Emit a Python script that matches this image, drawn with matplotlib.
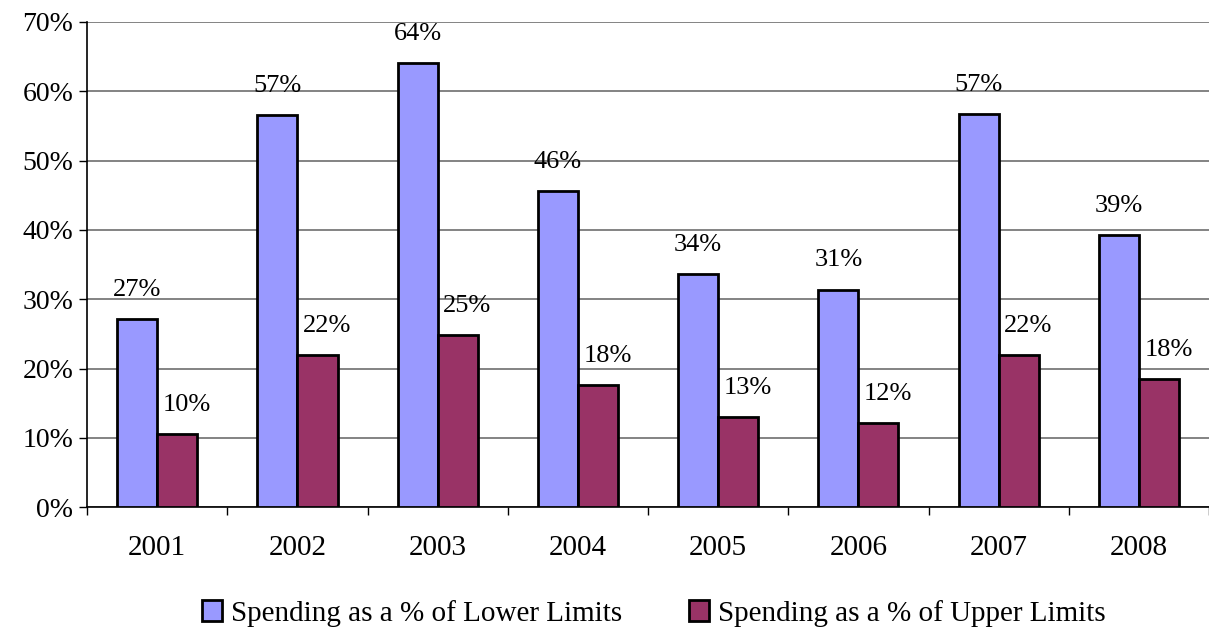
import matplotlib.pyplot as plt
import numpy as np

years = ['2001', '2002', '2003', '2004', '2005', '2006', '2007', '2008']
lower_pct = [27.2, 56.6, 64.1, 45.6, 33.7, 31.4, 56.7, 39.2]
upper_pct = [10.5, 21.9, 24.8, 17.6, 13.0, 12.1, 21.9, 18.5]
lower_labels = ['27%', '57%', '64%', '46%', '34%', '31%', '57%', '39%']
upper_labels = ['10%', '22%', '25%', '18%', '13%', '12%', '22%', '18%']

plt.rcParams['font.family'] = ['Liberation Serif', 'DejaVu Serif']

fig = plt.figure(figsize=(12.09, 6.27), dpi=100)
ax = fig.add_axes([0.072, 0.191, 0.928, 0.774])

x = np.arange(len(years))
w = 0.286
b1 = ax.bar(x - w / 2, lower_pct, w, color='#9999FF', edgecolor='black', linewidth=2,
            label='Spending as a % of Lower Limits', zorder=3)
b2 = ax.bar(x + w / 2, upper_pct, w, color='#993366', edgecolor='black', linewidth=2,
            label='Spending as a % of Upper Limits', zorder=3)

# value labels above bars
for xi, v, t in zip(x, lower_pct, lower_labels):
    ax.annotate(t, (xi - w / 2, v), xytext=(0, 13), textcoords='offset points',
                ha='center', va='bottom', fontsize=19)
for xi, v, t in zip(x, upper_pct, upper_labels):
    ax.annotate(t, (xi + w / 2, v), xytext=(7, 13), textcoords='offset points',
                ha='center', va='bottom', fontsize=19)

ax.set_xlim(-0.5, 7.5)
ax.set_ylim(0, 70)
ax.set_yticks(range(0, 71, 10))
ax.set_yticklabels([f'{v}%' for v in range(0, 71, 10)], fontsize=20)
ax.yaxis.grid(True, color='#6e6e6e', linewidth=1.2, zorder=0)
ax.set_axisbelow(True)

# category labels centered, ticks at boundaries
ax.set_xticks(x)
ax.set_xticklabels(years, fontsize=21)
ax.set_xticks(np.arange(-0.5, 8.0, 1), minor=True)
ax.tick_params(axis='x', which='major', length=0, pad=20)
ax.tick_params(axis='x', which='minor', length=6, width=1, direction='out')
ax.tick_params(axis='y', length=6, width=1, direction='out', pad=4)

for s in ['top', 'right']:
    ax.spines[s].set_visible(False)
ax.spines['left'].set_linewidth(1.2)
ax.spines['bottom'].set_linewidth(1.2)

ax.legend(handles=[b1, b2], loc='lower center', bbox_to_anchor=(0.505, -0.3), ncol=2,
          frameon=False, fontsize=21, handlelength=0.7, handleheight=0.7,
          handletextpad=0.3, columnspacing=2.3)

fig.savefig('out.png', dpi=100)
